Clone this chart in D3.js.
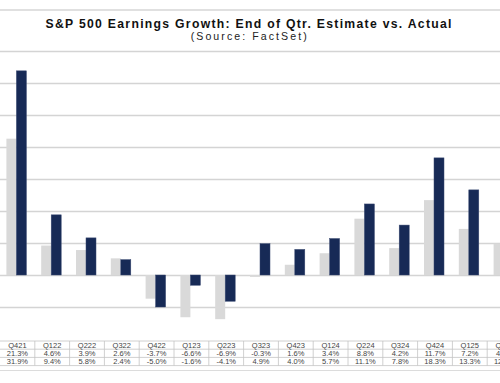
<!DOCTYPE html>
<html><head><meta charset="utf-8">
<script src="https://cdn.jsdelivr.net/npm/d3@7"></script>
<style>html,body{margin:0;padding:0;background:#fff;}svg{display:block;}</style>
</head><body>
<svg id="c" width="500" height="383"></svg>
<script>
const quarters = ["Q421","Q122","Q222","Q322","Q422","Q123","Q223","Q323","Q423","Q124","Q224","Q324","Q424","Q125","Q225"];
const estimate = [21.3, 4.6, 3.9, 2.6, -3.7, -6.6, -6.9, -0.3, 1.6, 3.4, 8.8, 4.2, 11.7, 7.2, 4.9];
const actual   = [31.9, 9.4, 5.8, 2.4, -5.0, -1.6, -4.1, 4.9, 4.0, 5.7, 11.1, 7.8, 18.3, 13.3, 12.0];
const seriesKeys = ["estimate","actual"];
const gridTicks = [-5,0,5,10,15,20,25,30,35];

const svg = d3.select("#c");
const W = 500;
const gridCol = "#d4d4d4";
const FF = "Liberation Sans, Arial, sans-serif";

svg.append("line").attr("x1",0).attr("x2",W).attr("y1",10).attr("y2",10)
  .attr("stroke","#d6d6d6").attr("stroke-width",1.3);

svg.append("text").attr("x",45.5).attr("y",27.8)
  .attr("font-family",FF).attr("font-weight","bold")
  .attr("font-size",12.2).attr("fill","#111")
  .attr("textLength",406).attr("lengthAdjust","spacing")
  .text("S&P 500 Earnings Growth:  End of Qtr. Estimate vs. Actual");
svg.append("text").attr("x",190.7).attr("y",40)
  .attr("font-family",FF)
  .attr("font-size",10.6).attr("fill","#222")
  .attr("textLength",116).attr("lengthAdjust","spacing")
  .text("(Source: FactSet)");

const x = d3.scaleBand().domain(quarters).range([0, 34.8*quarters.length]).padding(0);
const xi = d3.scaleBand().domain(seriesKeys).range([6.4, 26.4]).padding(0);
const y = d3.scaleLinear().domain([-10,35]).range([339,51]);

svg.append("g").selectAll("line").data(gridTicks).join("line")
  .attr("x1",0).attr("x2",W)
  .attr("y1",d=>Math.round(y(d))+0.5).attr("y2",d=>Math.round(y(d))+0.5)
  .attr("stroke",gridCol).attr("stroke-width",1.3);

const data = quarters.map((q,i)=>({q, estimate:estimate[i], actual:actual[i]}));
const colors = {estimate:"#d9d9d9", actual:"#172a56"};

const g = svg.append("g");
data.forEach(d=>{
  seriesKeys.forEach(k=>{
    const v = d[k];
    g.append("rect")
      .attr("x", x(d.q)+xi(k))
      .attr("width", xi.bandwidth())
      .attr("y", Math.min(y(v), y(0)))
      .attr("height", Math.abs(y(v)-y(0)))
      .attr("fill", colors[k])
      .attr("stroke", k==="actual" ? "#3a4a72" : "none")
      .attr("stroke-width", 0.5);
  });
});

const rowTop = [341, 349.2, 357.4, 365.6];
const tbl = svg.append("g");
rowTop.forEach(yy=>{
  tbl.append("line").attr("x1",0).attr("x2",W).attr("y1",yy).attr("y2",yy)
    .attr("stroke","#c4c4c4").attr("stroke-width",0.8);
});
quarters.forEach((q,i)=>{
  if(i>0){
    tbl.append("line").attr("x1",x(q)).attr("x2",x(q)).attr("y1",rowTop[0]).attr("y2",rowTop[3])
      .attr("stroke","#c4c4c4").attr("stroke-width",0.8);
  }
});
const fmt = v => v.toFixed(1)+"%";
const rows = [quarters, estimate.map(fmt), actual.map(fmt)];
rows.forEach((r,ri)=>{
  tbl.selectAll(null).data(r).join("text")
    .attr("x",(d,i)=>x(quarters[i])+x.bandwidth()/2)
    .attr("y",(rowTop[ri]+rowTop[ri+1])/2+2.7)
    .attr("text-anchor","middle")
    .attr("font-family",FF)
    .attr("font-size",7.5).attr("fill","#444")
    .text(d=>d);
});
svg.append("line").attr("x1",0).attr("x2",W).attr("y1",370.5).attr("y2",370.5)
  .attr("stroke","#dcdcdc").attr("stroke-width",1);
</script>
</body></html>
